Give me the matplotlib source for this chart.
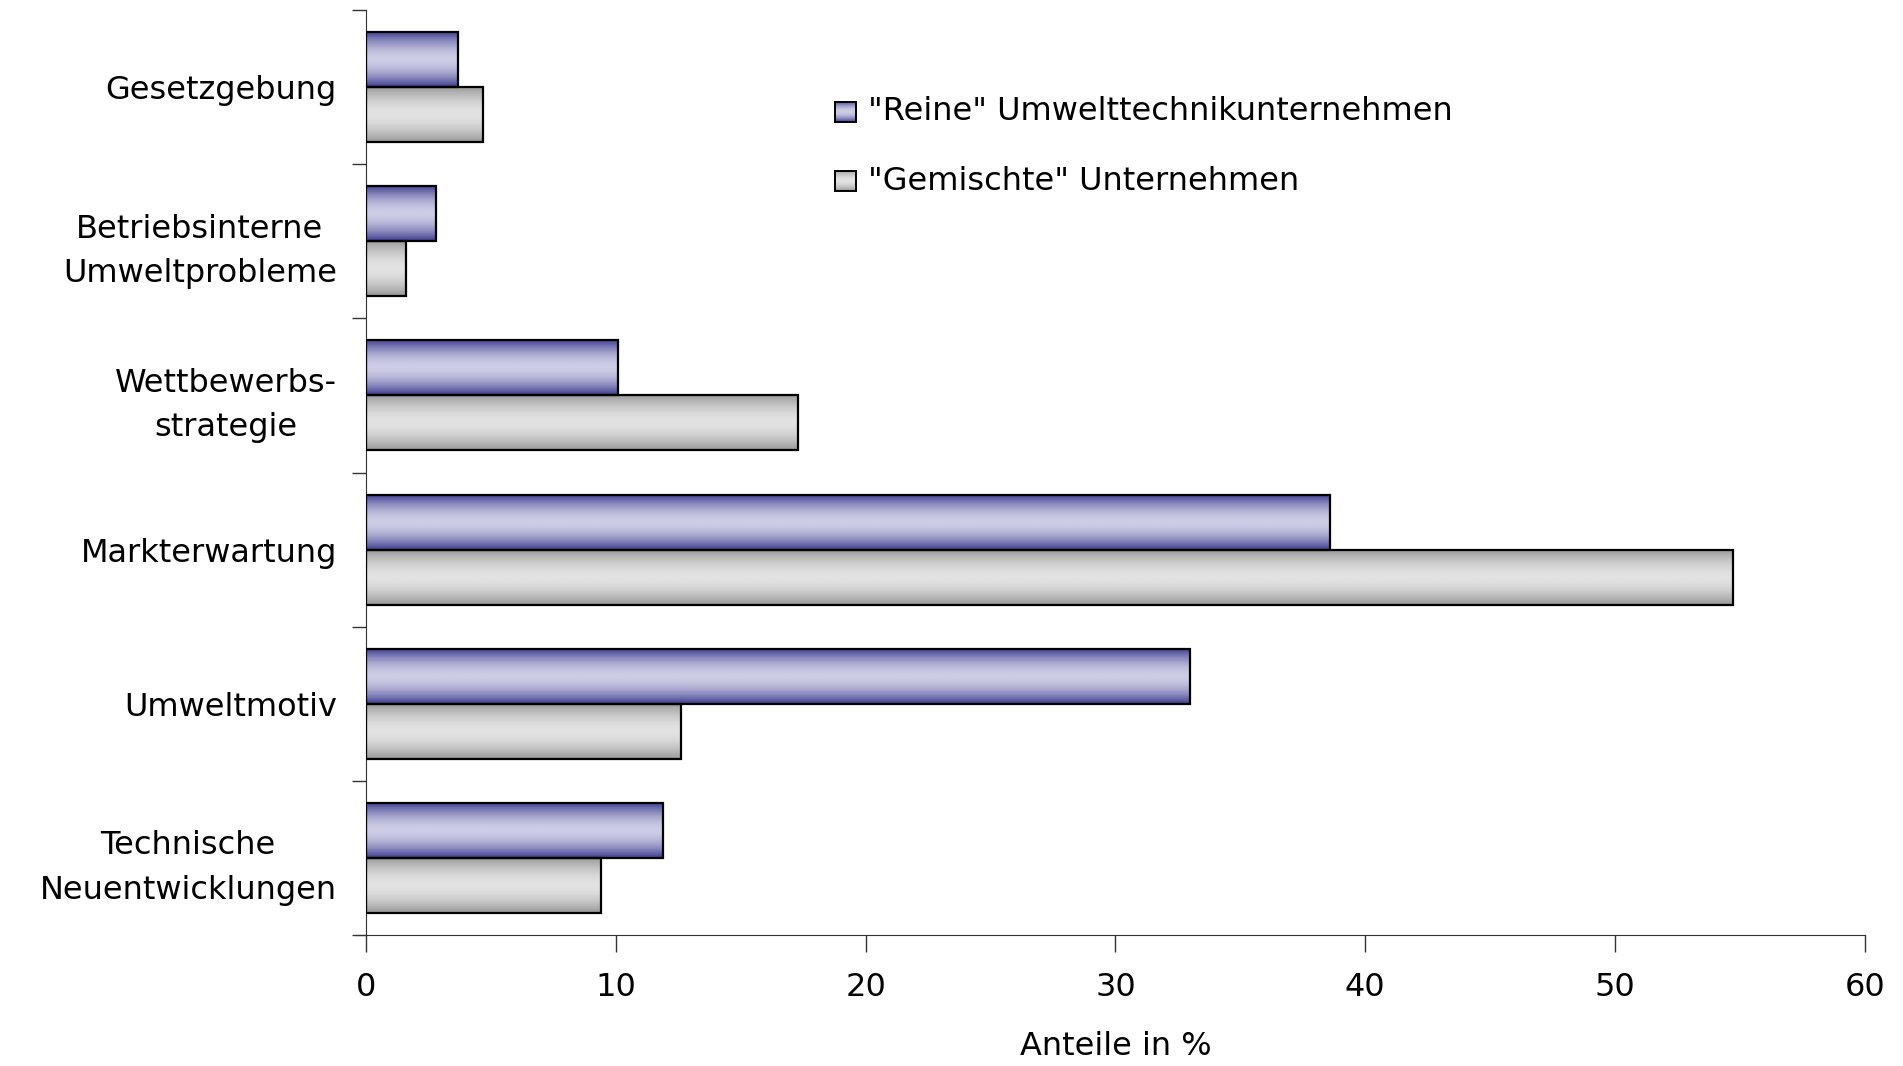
import numpy as np
import matplotlib
matplotlib.use("Agg")
import matplotlib.pyplot as plt
from matplotlib.colors import LinearSegmentedColormap

plt.rcParams['font.family'] = ['DejaVu Sans']

# Daten (von oben nach unten)
kategorien = ["Gesetzgebung", "Betriebsinterne\nUmweltprobleme", "Wettbewerbs-\nstrategie",
              "Markterwartung", "Umweltmotiv", "Technische\nNeuentwicklungen"]
reine = [3.7, 2.8, 10.1, 38.6, 33.0, 11.9]
gemischte = [4.7, 1.6, 17.3, 54.7, 12.6, 9.4]
serien = ['"Reine" Umwelttechnikunternehmen', '"Gemischte" Unternehmen']
xticks = [0, 10, 20, 30, 40, 50, 60]

blau = LinearSegmentedColormap.from_list("blau", ["#3a3a8e", "#cdcde6"])
grau = LinearSegmentedColormap.from_list("grau", ["#969696", "#e2e2e2"])

# Verlauf: dunkel am Rand, hell in der Mitte
prof = np.abs(np.linspace(-1, 1, 200))
prof = 1 - prof ** 1.8
grad = prof.reshape(-1, 1)

fig = plt.figure(figsize=(19.03, 10.66), dpi=100)
ax = fig.add_axes([0.1923, 0.1229, 0.7877, 0.8677])

n = len(kategorien)
y = np.arange(n)
h = 0.357
fs = 23

def verlauf_balken(ys, werte, cmap):
    bars = ax.barh(ys, werte, height=h, facecolor="none", edgecolor="black",
                   linewidth=1.6, zorder=3)
    for b in bars:
        x0, y0 = b.get_x(), b.get_y()
        w, hh = b.get_width(), b.get_height()
        im = ax.imshow(grad, cmap=cmap, vmin=0, vmax=1, aspect="auto",
                       extent=[x0, x0 + w, y0 + hh, y0], zorder=2,
                       interpolation="bilinear")
        im.set_clip_path(b)
    return bars

verlauf_balken(y - h / 2, reine, blau)
verlauf_balken(y + h / 2, gemischte, grau)

ax.set_xlim(0, 60)
ax.set_ylim(n - 0.5, -0.5)

ax.set_yticks(y)
ax.set_yticklabels(kategorien, fontsize=fs, linespacing=1.55, ha="right")
ax.set_yticks(np.arange(-0.5, n, 1), minor=True)
ax.tick_params(axis="y", which="major", length=0, pad=21)
ax.tick_params(axis="y", which="minor", length=10, width=1.0, color="#333333")
for lab in ax.get_yticklabels():
    lab.set_multialignment("center")

ax.set_xticks(xticks)
ax.tick_params(axis="x", length=12, width=1.0, color="#333333", labelsize=fs, pad=15)
ax.set_xlabel("Anteile in %", fontsize=fs, labelpad=20)

for s in ["top", "right"]:
    ax.spines[s].set_visible(False)
ax.spines["left"].set_color("#333333")
ax.spines["bottom"].set_color("#333333")
ax.spines["bottom"].set_bounds(-0.4, 60)
ax.spines["bottom"].set_clip_on(False)

# Legende
for i, (name, cmap) in enumerate(zip(serien, [blau, grau])):
    yy = 0.895 - i * 0.065
    ax_l = fig.add_axes([835 / 1903, yy - 0.0095, 21 / 1903, 0.019])
    ax_l.imshow(grad, cmap=cmap, vmin=0, vmax=1, aspect="auto",
                extent=[0, 1, 1, 0])
    ax_l.set_xticks([])
    ax_l.set_yticks([])
    for sp in ax_l.spines.values():
        sp.set_linewidth(1.4)
    fig.text(868 / 1903, yy, name, fontsize=fs, va="center", ha="left")

fig.savefig("out.png", dpi=100)
